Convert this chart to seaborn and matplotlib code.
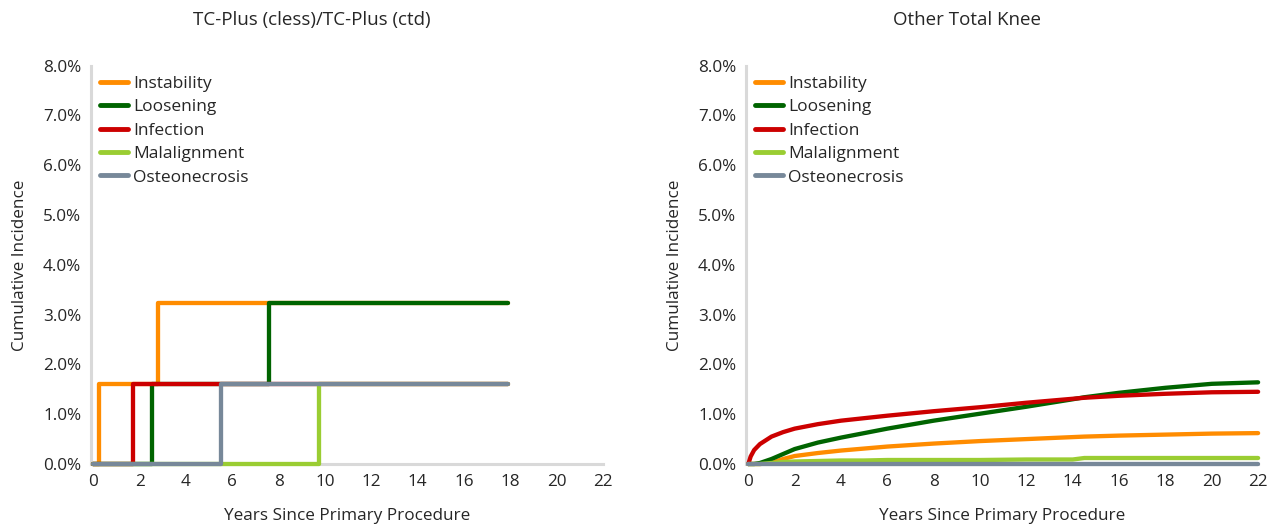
"""
Incidência cumulativa de revisão por causa — TC-Plus vs. outros joelhos totais.
"""

import matplotlib
matplotlib.use("Agg")
import matplotlib.pyplot as plt
import matplotlib.lines as mlines
from matplotlib.ticker import FuncFormatter, MultipleLocator
import pandas as pd
import seaborn as sns

# Causas e cores (ordem da legenda)
CAUSAS = ["Instability", "Loosening", "Infection", "Malalignment", "Osteonecrosis"]
CORES = {
    "Instability":   "#FF8C00",
    "Loosening":     "#006400",
    "Infection":     "#CC0000",
    "Malalignment":  "#9ACD32",
    "Osteonecrosis": "#778899",
}

# --- TC-Plus (cless)/TC-Plus (ctd): curvas em degraus (anos, % cumulativo)
TC_INSTAB_T = [0, 0.26, 2.79, 17.9]
TC_INSTAB_V = [0, 1.61, 3.23, 3.23]
TC_LOOS_T = [0, 2.53, 7.59, 17.9]
TC_LOOS_V = [0, 1.61, 3.23, 3.23]
TC_INF_T = [0, 1.70, 17.9]
TC_INF_V = [0, 1.61, 1.61]
TC_MAL_T = [0, 9.74, 17.9]
TC_MAL_V = [0, 1.61, 1.61]
TC_OST_T = [0, 5.52, 17.9]
TC_OST_V = [0, 1.61, 1.61]

# --- Other Total Knee: curvas suaves
OT_T = [0, 0.1, 0.25, 0.5, 1, 1.5, 2, 3, 4, 5, 6, 8, 10, 12, 14, 14.5, 16, 18, 20, 22]
OT_INSTAB = [0, 0, 0, 0, 0.02, 0.10, 0.16, 0.22, 0.27, 0.31, 0.35, 0.41, 0.46, 0.50,
             0.54, 0.55, 0.57, 0.59, 0.61, 0.62]
OT_LOOS = [0, 0, 0, 0.02, 0.10, 0.20, 0.30, 0.43, 0.53, 0.62, 0.71, 0.87, 1.01, 1.15,
           1.30, 1.34, 1.43, 1.53, 1.61, 1.64]
OT_INF = [0, 0.15, 0.28, 0.40, 0.55, 0.64, 0.71, 0.80, 0.87, 0.92, 0.97, 1.06, 1.14, 1.23,
          1.31, 1.33, 1.37, 1.41, 1.44, 1.45]
OT_MAL = [0, 0, 0, 0, 0.02, 0.04, 0.05, 0.06, 0.07, 0.07, 0.08, 0.08, 0.08, 0.09,
          0.09, 0.12, 0.12, 0.12, 0.12, 0.12]
OT_OST = [0, 0, 0, 0, 0, 0, 0, 0, 0, 0, 0, 0, 0, 0, 0, 0, 0, 0, 0, 0]

TITULOS = ["TC-Plus (cless)/TC-Plus (ctd)", "Other Total Knee"]
COR_EIXO = "#D9D9D9"
COR_TEXTO = "#262626"


def montar_df(series):
    linhas = []
    for causa, tempos, valores in series:
        for t, v in zip(tempos, valores):
            linhas.append({"anos": t, "incidencia": v, "causa": causa})
    return pd.DataFrame(linhas)


df_tc = montar_df([
    ("Instability", TC_INSTAB_T, TC_INSTAB_V),
    ("Loosening", TC_LOOS_T, TC_LOOS_V),
    ("Infection", TC_INF_T, TC_INF_V),
    ("Malalignment", TC_MAL_T, TC_MAL_V),
    ("Osteonecrosis", TC_OST_T, TC_OST_V),
])
df_ot = montar_df([
    ("Instability", OT_T, OT_INSTAB),
    ("Loosening", OT_T, OT_LOOS),
    ("Infection", OT_T, OT_INF),
    ("Malalignment", OT_T, OT_MAL),
    ("Osteonecrosis", OT_T, OT_OST),
])

sns.set_theme(style="white")
plt.rcParams["font.family"] = ["Open Sans", "DejaVu Sans"]

fig = plt.figure(figsize=(12.77, 5.29), dpi=100)
ax1 = fig.add_axes([0.0713, 0.1229, 0.401, 0.753])
ax2 = fig.add_axes([0.5842, 0.1229, 0.401, 0.753])

# Títulos centrados na área de cada gráfico (como no original)
for x_tit, titulo in zip([312 / 1277, 967 / 1277], TITULOS):
    fig.text(x_tit, 1 - 20 / 529, titulo, ha="center", va="center",
             fontsize=13.5, color=COR_TEXTO)

for ax, df, degrau in [(ax1, df_tc, True), (ax2, df_ot, False)]:
    extra = {"drawstyle": "steps-post"} if degrau else {}
    sns.lineplot(data=df, x="anos", y="incidencia", hue="causa", hue_order=CAUSAS,
                 palette=CORES, estimator=None, sort=False, lw=3.1, legend=False,
                 ax=ax, **extra)
    for linha in ax.get_lines():
        linha.set_zorder(3)
        linha.set_clip_on(False)

    ax.set_xlim(-0.1, 22)
    ax.set_ylim(0, 8)
    ax.xaxis.set_major_locator(MultipleLocator(2))
    ax.yaxis.set_major_locator(MultipleLocator(1))
    ax.yaxis.set_major_formatter(FuncFormatter(lambda v, p: f"{v:.1f}%"))

    for lado in ["top", "right"]:
        ax.spines[lado].set_visible(False)
    for lado in ["left", "bottom"]:
        ax.spines[lado].set_color(COR_EIXO)
        ax.spines[lado].set_linewidth(2.2)
    ax.tick_params(axis="both", length=4, width=1, color=COR_EIXO,
                   labelsize=12.3, labelcolor=COR_TEXTO, pad=3)

    ax.set_xlabel("Years Since Primary Procedure", fontsize=12.3, color=COR_TEXTO,
                  labelpad=13)
    ax.set_ylabel("Cumulative Incidence", fontsize=12.3, color=COR_TEXTO, labelpad=11)

    handles = [mlines.Line2D([], [], color=CORES[c], lw=3.5, label=c) for c in CAUSAS]
    ax.legend(handles=handles, loc="upper left", bbox_to_anchor=(0.0176, 0.975),
              frameon=False, fontsize=12.5, handlelength=1.6, handletextpad=0.3,
              labelspacing=0.42, borderaxespad=0, borderpad=0, labelcolor=COR_TEXTO)

plt.savefig("out.png", dpi=100)
plt.close()
